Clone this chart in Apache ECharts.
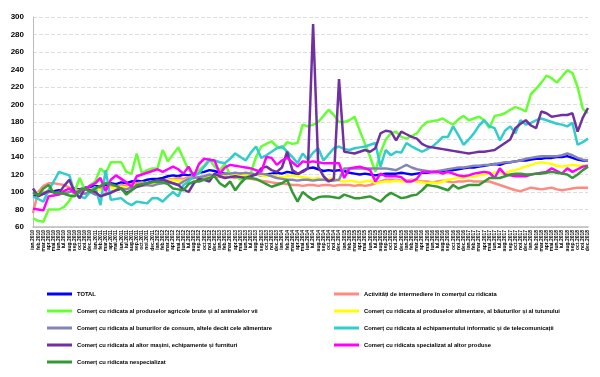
<!DOCTYPE html>
<html>
<head>
<meta charset="utf-8">
<script src="https://cdn.jsdelivr.net/npm/echarts@6/dist/echarts.min.js"></script>
<style>
  html, body { margin: 0; padding: 0; background: #fff; }
  #chart { width: 600px; height: 377px; }
</style>
</head>
<body>
<div id="chart"></div>
<script>
// luni si ani pentru eticheta axei X (ian.2010 - dec.2018)
var luni = ['ian', 'feb', 'mar', 'apr', 'mai', 'iun', 'iul', 'aug', 'sep', 'oct', 'noi', 'dec'];
var ani = ['2010', '2011', '2012', '2013', '2014', '2015', '2016', '2017', '2018'];
var categorii = [];
ani.forEach(function(a) {
	luni.forEach(function(l) { categorii.push(l + '.' + a); });
});

var yTicks = { min: 60, max: 300, interval: 20 };

var numeSerii = [
	'TOTAL',
	'Activități de intermediere în comerțul cu ridicata',
	'Comerț cu ridicata al produselor agricole brute și al animalelor vii',
	'Comerț cu ridicata al produselor alimentare, al băuturilor și al tutunului',
	'Comerț cu ridicata al bunurilor de consum, altele decât cele alimentare',
	'Comerț cu ridicata al echipamentului informatic și de telecomunicații',
	'Comerț cu ridicata al altor mașini, echipamente și furnituri',
	'Comerț cu ridicata specializat al altor produse',
	'Comerț cu ridicata nespecializat'
];

var culori = ['#0000ff', '#ff8a80', '#66ff33', '#ffff00', '#8585b5', '#33cccc', '#7030a0', '#ff00ff', '#339933'];

var total = [
	95, 96, 98, 100, 101, 102, 101, 103, 104, 103, 105, 106,
	107, 106, 108, 110, 109, 111, 110, 112, 113, 112, 114, 115,
	115, 116, 118, 119, 118, 120, 119, 121, 122, 123, 125, 124,
	122, 121, 121, 120, 121, 120, 121, 120, 119, 120, 121, 122,
	121, 123, 122, 120, 124, 127, 128, 126, 124, 125, 124, 125,
	124, 122, 121, 120, 121, 120, 119, 120, 121, 121, 121, 122,
	121, 120, 121, 122, 122, 123, 123, 124, 125, 125, 126, 127,
	128, 128, 129, 130, 131, 132, 131, 133, 134, 135, 136, 136,
	137, 138, 138, 139, 139, 140, 140, 141, 139, 137, 136, 136
];
var intermediere = [
	76, 100, 107, 110, 110, 109, 108, 105, 103, 102, 104, 103,
	102, 104, 105, 107, 106, 108, 107, 109, 110, 111, 110, 112,
	113, 112, 114, 115, 116, 115, 117, 118, 117, 118, 117, 118,
	117, 118, 117, 116, 117, 116, 115, 114, 113, 112, 111, 110,
	110, 109, 108, 108, 107, 108, 108, 107, 108, 108, 107, 108,
	108, 108, 107, 108, 107, 108, 110, 112, 114, 114, 114, 113,
	113, 114, 113, 112, 112, 111, 112, 113, 112, 111, 112, 112,
	113, 112, 112, 112, 112, 110, 108, 106, 104, 102, 101, 103,
	105, 104, 103, 104, 105, 103, 102, 103, 104, 105, 105, 105
];
var agricole = [
	70, 67, 66, 80, 80, 80, 83, 90, 100, 116, 102, 108,
	112, 127, 121, 134, 134, 134, 123, 121, 144, 121, 125, 127,
	127, 148, 135, 143, 151, 138, 125, 119, 125, 130, 138, 129,
	125, 132, 120, 118, 114, 118, 122, 140, 152, 155, 158, 152,
	150, 157, 155, 156, 177, 175, 177, 180, 187, 194, 188, 180,
	180, 182, 186, 170, 155, 140, 123, 145, 160, 167, 169, 163,
	161, 164, 167, 175, 180, 181, 182, 184, 180, 177, 183, 187,
	182, 184, 186, 182, 173, 187, 188, 190, 194, 197, 195, 192,
	212, 218, 225, 233, 230, 225, 232, 239, 236, 220, 195, 190
];
var alimentare = [
	100, 98, 100, 101, 99, 100, 101, 102, 100, 101, 103, 102,
	104, 102, 103, 105, 104, 106, 105, 107, 108, 109, 110, 109,
	111, 112, 113, 114, 112, 113, 115, 116, 117, 118, 119, 118,
	119, 120, 121, 120, 119, 120, 121, 120, 119, 118, 119, 118,
	117, 118, 119, 118, 117, 116, 115, 116, 114, 115, 116, 113,
	112, 113, 112, 111, 112, 113, 110, 111, 112, 112, 113, 112,
	112, 113, 112, 111, 110, 111, 110, 112, 114, 115, 117, 116,
	118, 117, 119, 120, 121, 122, 123, 121, 124, 125, 127, 129,
	131, 133, 134, 133, 132, 130, 129, 130, 131, 130, 130, 130
];
var bunuriConsum = [
	100, 97, 99, 101, 100, 99, 98, 100, 101, 99, 98, 100,
	97, 96, 98, 100, 102, 104, 103, 105, 106, 107, 108, 107,
	109, 110, 111, 110, 108, 112, 115, 116, 117, 118, 120, 119,
	120, 121, 121, 122, 121, 122, 121, 120, 121, 120, 118, 116,
	115, 114, 114, 113, 114, 114, 113, 114, 114, 113, 113, 114,
	127, 127, 127, 127, 127, 127, 127, 127, 127, 126, 125, 128,
	131, 128, 126, 125, 124, 123, 124, 125, 126, 127, 128, 128,
	129, 130, 130, 131, 131, 132, 133, 134, 134, 135, 136, 138,
	139, 140, 141, 141, 141, 141, 142, 144, 142, 139, 137, 136
];
var echipamentIT = [
	95, 92, 89, 102, 112, 123, 121, 119, 100, 95, 93, 100,
	106, 85, 125, 91, 92, 93, 88, 85, 89, 88, 87, 93,
	93, 89, 95, 100, 95, 108, 112, 119, 121, 129, 136, 136,
	134, 133, 138, 144, 140, 136, 145, 152, 139, 142, 146, 150,
	152, 146, 140, 133, 144, 137, 145, 150, 136, 143, 150, 152,
	149, 148, 150, 151, 152, 154, 156, 129, 148, 142, 146, 145,
	156, 152, 149, 146, 149, 152, 157, 163, 163, 175, 165, 154,
	160, 167, 176, 182, 175, 173, 159, 170, 175, 167, 182, 177,
	179, 182, 184, 182, 180, 178, 177, 175, 179, 154, 157, 161
];
var alteMasini = [
	104, 95, 98, 101, 100, 99, 107, 114, 100, 93, 104, 102,
	100, 95, 97, 99, 102, 104, 99, 102, 106, 108, 110, 112,
	113, 114, 112, 110, 108, 103, 100, 110, 115, 114, 112, 121,
	118, 116, 117, 118, 117, 116, 118, 120, 127, 129, 125, 123,
	128, 146, 125, 121, 123, 127, 292, 129, 118, 112, 115, 229,
	146, 145, 144, 146, 148, 146, 150, 167, 170, 169, 159, 169,
	166, 163, 161, 155, 152, 151, 150, 149, 148, 147, 146, 145,
	144, 145, 146, 146, 147, 148, 152, 156, 160, 173, 178, 182,
	176, 173, 192, 190, 186, 187, 188, 188, 190, 169, 185, 196
];
var specializat = [
	81, 80, 79, 95, 96, 97, 101, 104, 99, 101, 103, 107,
	110, 116, 101, 114, 119, 115, 111, 106, 118, 120, 122, 124,
	126, 123, 126, 129, 126, 121, 129, 118, 132, 138, 137, 136,
	121, 128, 131, 130, 129, 128, 127, 125, 123, 140, 139, 131,
	136, 139, 134, 129, 135, 134, 135, 134, 133, 133, 133, 133,
	116, 127, 128, 129, 127, 125, 112, 121, 118, 118, 118, 117,
	112, 112, 115, 123, 123, 123, 123, 121, 123, 121, 119, 118,
	119, 121, 122, 123, 122, 116, 127, 120, 119, 118, 118, 118,
	120, 121, 122, 123, 127, 124, 121, 127, 123, 126, 129, 130
];
var nespecializat = [
	99, 96, 104, 108, 99, 99, 98, 96, 95, 102, 104, 100,
	104, 107, 110, 109, 107, 104, 97, 102, 108, 109, 110, 111,
	112, 111, 109, 104, 103, 102, 109, 112, 112, 114, 116, 118,
	110, 106, 112, 102, 110, 116, 116, 115, 112, 109, 106, 108,
	110, 114, 100, 89, 100, 95, 91, 94, 95, 95, 94, 93,
	97, 95, 93, 93, 94, 95, 92, 89, 95, 99, 96, 93,
	94, 96, 97, 102, 108, 107, 106, 104, 102, 108, 104, 106,
	108, 108, 108, 112, 116, 116, 116, 118, 120, 121, 121, 120,
	120, 121, 121, 122, 123, 122, 121, 120, 116, 120, 125, 129
];

var dateSerii = [total, intermediere, agricole, alimentare, bunuriConsum, echipamentIT, alteMasini, specializat, nespecializat];

function extinde(a, b) {
	for (var k in b) a[k] = b[k];
	return a;
}

var chart = echarts.init(document.getElementById('chart'));

var series = dateSerii.map(function(d, i) {
	return {
		name: numeSerii[i],
		type: 'line',
		data: d,
		symbol: 'none',
		color: culori[i],
		lineStyle: { width: 2.5, color: culori[i] }
	};
});

// legenda pe doua coloane (ordinea pe randuri)
var legendaStanga = [numeSerii[0], numeSerii[2], numeSerii[4], numeSerii[6], numeSerii[8]];
var legendaDreapta = [numeSerii[1], numeSerii[3], numeSerii[5], numeSerii[7]];
var legendaComun = {
	orient: 'vertical',
	padding: 0,
	icon: 'rect',
	itemWidth: 25,
	itemHeight: 3,
	itemGap: 9,
	textStyle: { fontSize: 5.8, fontWeight: 'bold', color: '#000', fontFamily: 'Liberation Sans', lineHeight: 8 }
};

var option = {
	animation: false,
	grid: { left: 33, right: 12, top: 17, bottom: 150 },
	legend: [
		extinde({ left: 47, top: 290, data: legendaStanga }, legendaComun),
		extinde({ left: 334, top: 290, data: legendaDreapta }, legendaComun)
	],
	xAxis: {
		type: 'category',
		boundaryGap: false,
		data: categorii,
		axisLine: { lineStyle: { color: '#bbb', width: 1.5 } },
		axisTick: { show: false },
		axisLabel: { interval: 0, rotate: 90, fontSize: 5, fontWeight: 'bold', color: '#000', margin: 3, fontFamily: 'Liberation Sans' }
	},
	yAxis: {
		type: 'value',
		min: yTicks.min,
		max: yTicks.max,
		interval: yTicks.interval,
		axisLine: { show: true, lineStyle: { color: '#bbb' } },
		axisTick: { show: false },
		splitLine: { lineStyle: { color: '#ddd', type: 'dashed' } },
		axisLabel: { fontSize: 8, fontWeight: 'bold', color: '#000', margin: 9, fontFamily: 'Liberation Sans' }
	},
	series: series
};

chart.setOption(option);
</script>
</body>
</html>
